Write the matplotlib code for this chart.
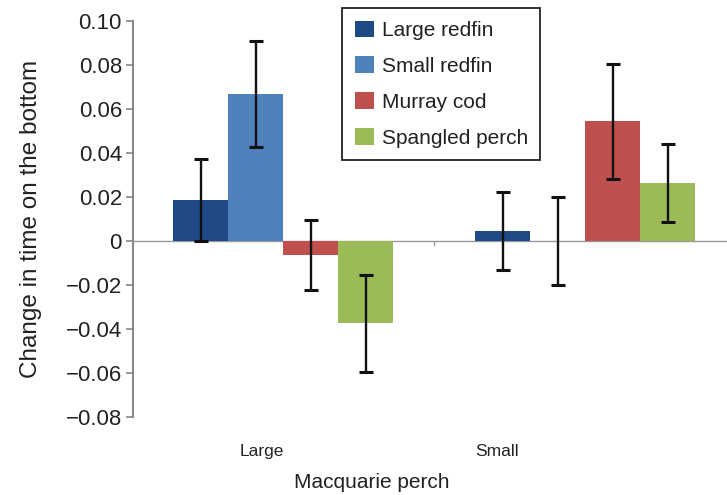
import numpy as np
import matplotlib
matplotlib.use('Agg')
import matplotlib.pyplot as plt

plt.rcParams['font.family'] = ['Liberation Sans', 'DejaVu Sans']

groups = ['Large', 'Small']
series = ['Large redfin', 'Small redfin', 'Murray cod', 'Spangled perch']
colors = ['#1F4A86', '#4F81BD', '#C0504D', '#9BBB59']
# mean change for each species, per Macquarie perch size class
means = [[0.0186, 0.0665, -0.0065, -0.0376],
         [0.0043, 0.0, 0.0542, 0.0264]]
errs = [[0.0187, 0.0241, 0.0159, 0.0220],
        [0.0177, 0.0200, 0.0260, 0.0177]]
yticks = [-0.08, -0.06, -0.04, -0.02, 0, 0.02, 0.04, 0.06, 0.08, 0.10]
ytick_labels = ['\u22120.08', '\u22120.06', '\u22120.04', '\u22120.02', '0',
                '0.02', '0.04', '0.06', '0.08', '0.10']

fig = plt.figure(figsize=(7.27, 4.95), dpi=100)
ax = fig.add_axes([133/727, 1-416.7/495, 1-133/727, (416.7-20.7)/495])

txt = '#222222'
w = 0.182
x = np.arange(len(groups))
means = np.array(means)
errs = np.array(errs)
for i in range(len(series)):
    pos = x + (i - 1.5) * w
    ax.bar(pos, means[:, i], width=w, color=colors[i], label=series[i], zorder=2)
    ax.errorbar(pos, means[:, i], yerr=errs[:, i], fmt='none', ecolor='#111111',
                elinewidth=1.7, capsize=5, capthick=2.2, zorder=3)

ax.axhline(0, color='#999999', lw=1.0, zorder=1)
ax.vlines(0.5, -0.0025, 0, color='#999999', lw=1.0)

ax.set_xlim(-0.497, 1.47)
ax.set_ylim(-0.08, 0.10)
ax.set_yticks(yticks)
ax.set_yticklabels(ytick_labels, fontsize=16, color=txt)
ax.set_xticks([])
for s in ['top', 'right', 'bottom']:
    ax.spines[s].set_visible(False)
ax.spines['left'].set_color('#888888')
ax.spines['left'].set_linewidth(1.5)
ax.tick_params(axis='y', direction='out', length=5, width=1.2, color='#888888', pad=3)

# category labels sit under each group, offset as in the original
ax.text(-0.07, -0.096, groups[0], ha='center', va='center', fontsize=12.5, color=txt,
        transform=ax.transData)
ax.text(0.71, -0.096, groups[1], ha='center', va='center', fontsize=12.5, color=txt,
        transform=ax.transData)
fig.text(372/727, 1-482/495, 'Macquarie perch', ha='center', va='center', fontsize=15, color=txt)
ax.set_ylabel('Change in time on the bottom', fontsize=17.5, color=txt, labelpad=17)

leg = ax.legend(loc='upper left', bbox_to_anchor=(342/727, 1-8/495), bbox_transform=fig.transFigure,
                borderaxespad=0, fancybox=False, edgecolor='#222222', fontsize=15,
                handlelength=0.95, handleheight=0.85, handletextpad=0.35,
                labelspacing=0.79, borderpad=0.6, framealpha=1)
leg.get_frame().set_linewidth(1.3)
for t in leg.get_texts():
    t.set_color(txt)

fig.savefig('out.png', dpi=100)
